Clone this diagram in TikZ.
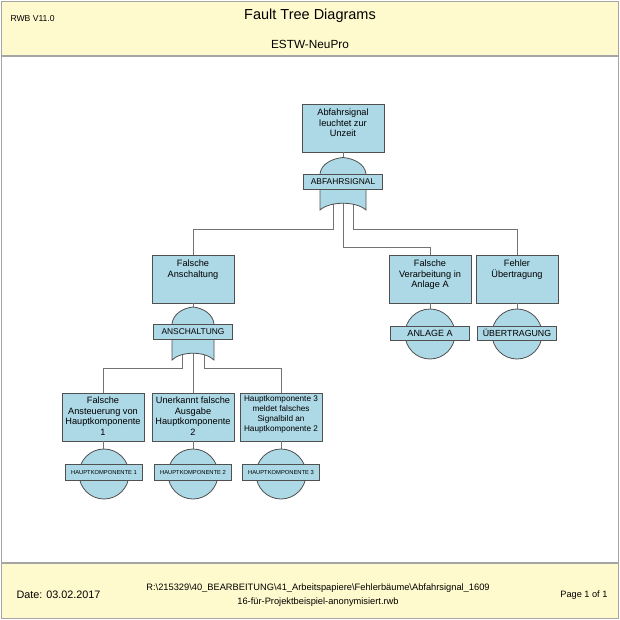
\documentclass[tikz,border=0pt]{standalone}
\usepackage{fontspec}
\setmainfont{Liberation Sans}
\definecolor{evfill}{RGB}{173,216,230}
\definecolor{bandfill}{RGB}{255,250,205}
\definecolor{edge}{RGB}{80,80,80}
\definecolor{wire}{RGB}{115,115,115}
\definecolor{frame}{RGB}{165,165,165}
\begin{document}
\begin{tikzpicture}[x=1pt,y=1pt,yscale=-1,
  event/.style={draw=edge,fill=evfill,line width=0.8,minimum width=82,minimum height=48,inner sep=0},
  evtext/.style={align=center,anchor=north,inner sep=0,font=\fontsize{9.2}{10.5}\selectfont},
  tag/.style={draw=edge,fill=evfill,line width=0.8,minimum width=79,minimum height=15,inner sep=0,font=\fontsize{8.4}{9}\selectfont},
  basic/.style={circle,draw=edge,fill=evfill,line width=0.8,minimum size=50,inner sep=0},
  gate/.style={draw=edge,fill=evfill,line width=0.8},
  wire/.style={draw=wire,line width=0.8}]
\useasboundingbox (0,0) rectangle (620,620);

%Shape: Rectangle [page frame]
\draw [draw=frame,fill=white,line width=1.5] (1.5,1.5) rectangle (618.5,618.5);
\draw [draw=frame,fill=bandfill,line width=1.5] (1.5,1.5) rectangle (618.5,56);
\draw [draw=frame,fill=bandfill,line width=1.5] (1.5,563) rectangle (618.5,618.5);

% header and footer texts
\node [anchor=west,font=\fontsize{8.6}{10}\selectfont] (ver) at (7,19) {RWB V11.0};
\node [font=\fontsize{14.5}{16}\selectfont] (title) at (310,16) {Fault Tree Diagrams};
\node [font=\fontsize{11.8}{13}\selectfont] (proj) at (310,44) {ESTW-NeuPro};
\node [anchor=west,font=\fontsize{10.8}{12}\selectfont] (date) at (13,595) {Date: 03.02.2017};
\node [align=center,font=\fontsize{9.3}{14}\selectfont] (path) at (318,595) {R:\textbackslash 215329\textbackslash 40\_BEARBEITUNG\textbackslash 41\_Arbeitspapiere\textbackslash Fehlerbäume\textbackslash Abfahrsignal\_1609\\16-für-Projektbeispiel-anonymisiert.rwb};
\node [anchor=east,font=\fontsize{9.2}{11}\selectfont] (page) at (611,595) {Page 1 of 1};

%Shape: Rectangle [events]
\node [event] (top) at (343,128) {};
\node [event] (A) at (193,279) {};
\node [event] (B) at (430,279) {};
\node [event] (C) at (517,279) {};
\node [event] (D1) at (103,417) {};
\node [event] (D2) at (193,417) {};
\node [event] (D3) at (281,417) {};

% gate labels (placed first so the wires can start at them)
\path (343,181.5) node [tag] (abf) {} (193,332) node [tag] (ansch) {};

%Straight Lines [connectors]
\draw [wire] (top.south) -- (abf.north);
\draw [wire] ([xshift=-10pt]abf.south) -- ++(0,40) -| (A.north);
\draw [wire] (abf.south) -- ++(0,58) -| (B.north);
\draw [wire] ([xshift=10pt]abf.south) -- ++(0,40) -| (C.north);
\draw [wire] (A.south) -- (ansch.north);
\draw [wire] ([xshift=-11pt]ansch.south) -- ++(0,28) -| (D1.north);
\draw [wire] (ansch.south) -- (D2.north);
\draw [wire] ([xshift=11pt]ansch.south) -- ++(0,28) -| (D3.north);
\draw [wire] (B.south) -- ++(0,8);
\draw [wire] (C.south) -- ++(0,8);
\draw [wire] (D1.south) -- ++(0,8);
\draw [wire] (D2.south) -- ++(0,8);
\draw [wire] (D3.south) -- ++(0,8);

%Shape: OR gates
\draw [gate] (320,189) -- (320,174) .. controls (321,164) and (332,158.5) .. (343,157.5) .. controls (354,158.5) and (365,164) .. (366,174) -- (366,210) .. controls (356,201) and (330,201) .. (320,210) -- cycle;
\draw [gate] (172,340) -- (172,324) .. controls (173,314) and (183,308) .. (193,307) .. controls (203,308) and (213,314) .. (214,324) -- (214,360) .. controls (205,351) and (181,351) .. (172,360) -- cycle;
\node [tag] (abf) at (343,181.5) {ABFAHRSIGNAL};
\node [tag] (ansch) at (193,332) {ANSCHALTUNG};

%Shape: Circle [basic events]
\node [basic] (Bc) at (430,334) {};
\node [basic] (Cc) at (517,334) {};
\node [basic] (D1c) at (104,474) {};
\node [basic] (D2c) at (193,474) {};
\node [basic] (D3c) at (281,474) {};
\node [tag,minimum height=14,font=\fontsize{9}{10}\selectfont] (Bl) at (430,333) {ANLAGE A};
\node [tag,minimum height=14,font=\fontsize{8.8}{10}\selectfont] (Cl) at (517,333) {ÜBERTRAGUNG};
\node [tag,minimum width=77,minimum height=16,font=\fontsize{5.8}{7}\selectfont] (D1l) at (104,472.5) {HAUPTKOMPONENTE 1};
\node [tag,minimum width=77,minimum height=16,font=\fontsize{5.8}{7}\selectfont] (D2l) at (193,472.5) {HAUPTKOMPONENTE 2};
\node [tag,minimum width=77,minimum height=16,font=\fontsize{5.8}{7}\selectfont] (D3l) at (281,472.5) {HAUPTKOMPONENTE 3};

% event texts
\node [evtext] (top-t) at (343,109) {Abfahrsignal\\leuchtet zur\\Unzeit};
\node [evtext] (A-t) at (193,260) {Falsche\\Anschaltung};
\node [evtext] (B-t) at (430,260) {Falsche\\Verarbeitung in\\Anlage A};
\node [evtext] (C-t) at (517,260) {Fehler\\Übertragung};
\node [evtext] (D1-t) at (103,397) {Falsche\\Ansteuerung von\\Hauptkomponente\\1};
\node [evtext] (D2-t) at (193,397) {Unerkannt falsche\\Ausgabe\\Hauptkomponente\\2};
\node [evtext,font=\fontsize{8.2}{10.2}\selectfont] (D3-t) at (281,395) {Hauptkomponente 3\\meldet falsches\\Signalbild an\\Hauptkomponente 2};
\end{tikzpicture}
\end{document}
